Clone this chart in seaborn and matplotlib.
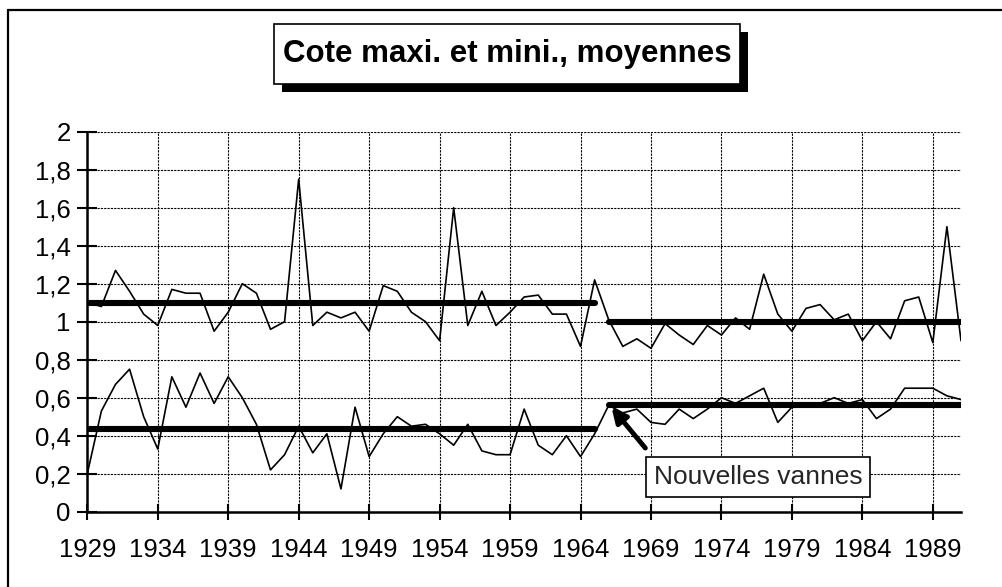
import numpy as np
import pandas as pd
import matplotlib
matplotlib.use("Agg")
import matplotlib.pyplot as plt
from matplotlib.patches import Rectangle
from matplotlib.lines import Line2D
from matplotlib.ticker import FuncFormatter, MultipleLocator
import seaborn as sns

# values
years = list(range(1929, 1992))
cote_maxi = [1.10, 1.08, 1.27, 1.16, 1.04, 0.98, 1.17, 1.15, 1.15, 0.95,
             1.05, 1.20, 1.15, 0.96, 1.00, 1.75, 0.98, 1.05, 1.02, 1.05,
             0.95, 1.19, 1.16, 1.05, 1.00, 0.90, 1.60, 0.98, 1.16, 0.98,
             1.05, 1.13, 1.14, 1.04, 1.04, 0.87, 1.22, 1.01, 0.87, 0.91,
             0.86, 0.99, 0.93, 0.88, 0.98, 0.93, 1.02, 0.96, 1.25, 1.04,
             0.95, 1.07, 1.09, 1.01, 1.04, 0.90, 1.00, 0.91, 1.11, 1.13,
             0.89, 1.50, 0.90]
cote_mini = [0.20, 0.53, 0.67, 0.75, 0.50, 0.33, 0.71, 0.55, 0.73, 0.57,
             0.71, 0.60, 0.46, 0.22, 0.30, 0.45, 0.31, 0.41, 0.12, 0.55,
             0.29, 0.41, 0.50, 0.45, 0.46, 0.41, 0.35, 0.46, 0.32, 0.30,
             0.30, 0.54, 0.35, 0.30, 0.40, 0.29, 0.41, 0.56, 0.52, 0.54,
             0.47, 0.46, 0.54, 0.49, 0.54, 0.60, 0.57, 0.61, 0.65, 0.47,
             0.55, 0.57, 0.57, 0.60, 0.57, 0.59, 0.49, 0.54, 0.65, 0.65,
             0.65, 0.61, 0.59]

# mean levels before / after the new gates
period_start = [1929, 1966]
period_end = [1965, 1991]
moyenne_maxi = [1.10, 1.00]
moyenne_mini = [0.435, 0.56]

title = "Cote maxi. et mini., moyennes"
note = "Nouvelles vannes"
note_tip = (1966.2, 0.55)
note_tail = (1968.6, 0.335)
note_pos = (1976.6, 0.183)
x_ticks = list(range(1929, 1990, 5))

sns.set_theme(style="white")
plt.rcParams["font.family"] = ["Liberation Sans", "DejaVu Sans"]

W, H = 1002, 587
fig = plt.figure(figsize=(W / 100, H / 100), dpi=100)
fig.patch.set_facecolor("white")

ax = fig.add_axes([87.3 / W, 1 - 511.7 / H, (961 - 87.3) / W, (511.7 - 131.7) / H])

df = pd.DataFrame({"annee": years, "maxi": cote_maxi, "mini": cote_mini})
sns.lineplot(data=df, x="annee", y="maxi", ax=ax, color="black", lw=1.2)
sns.lineplot(data=df, x="annee", y="mini", ax=ax, color="black", lw=1.2)

for x0, x1, vmax, vmin in zip(period_start, period_end, moyenne_maxi, moyenne_mini):
    for v in (vmax, vmin):
        ax.plot([x0, x1], [v, v], color="black", lw=4.4, solid_capstyle="round", zorder=3)

ax.set_xlim(1929, 1991)
ax.set_ylim(0, 2)
ax.set_xticks(x_ticks)
ax.yaxis.set_major_locator(MultipleLocator(0.2))
ax.yaxis.set_major_formatter(FuncFormatter(lambda v, p: ("%g" % round(v, 1)).replace(".", ",")))
ax.set_xlabel("")
ax.set_ylabel("")

ax.grid(True, color="black", lw=0.8, linestyle=(0, (2, 1)))
for side in ["top", "right"]:
    ax.spines[side].set_visible(False)
for side in ["left", "bottom"]:
    ax.spines[side].set_visible(True)
    ax.spines[side].set_color("black")
    ax.spines[side].set_linewidth(1.8)
ax.tick_params(axis="y", direction="inout", length=14, width=1.5, color="black",
               labelsize=18.5, labelcolor="black", pad=5, left=True)
ax.tick_params(axis="x", direction="inout", length=12, width=1.5, color="black",
               labelsize=18.5, labelcolor="black", pad=13, bottom=True)

# arrow + note box
ax.annotate("", xy=note_tip, xytext=note_tail,
            arrowprops=dict(arrowstyle="-|>", lw=3.5, color="black", mutation_scale=22,
                            shrinkA=0, shrinkB=0), zorder=5)
ax.text(note_pos[0], note_pos[1], note, ha="center", va="center", fontsize=19, zorder=6,
        bbox=dict(boxstyle="square,pad=0.3", fc="white", ec="black", lw=1.2))

# outer chart frame (only left and top edges fall inside the picture)
fig.add_artist(Line2D([8 / W, 8 / W], [0, 1 - 10 / H], color="black", lw=1.6,
                      transform=fig.transFigure))
fig.add_artist(Line2D([8 / W, 1], [1 - 10 / H, 1 - 10 / H], color="black", lw=1.6,
                      transform=fig.transFigure))

# title box with drop shadow
bx0, bx1, by0, by1 = 274, 740, 24, 84
fig.add_artist(Rectangle(((bx0 + 8) / W, 1 - (by1 + 8) / H), (bx1 - bx0) / W, (by1 - by0) / H,
                         transform=fig.transFigure, fc="black", ec="black", lw=0))
fig.add_artist(Rectangle((bx0 / W, 1 - by1 / H), (bx1 - bx0) / W, (by1 - by0) / H,
                         transform=fig.transFigure, fc="white", ec="black", lw=1.2))
fig.text((bx0 + bx1) / 2 / W, 1 - (by0 + by1) / 2 / H, title, ha="center", va="center",
         fontsize=22.5, fontweight="bold", color="black")

fig.savefig("out.png", dpi=100, facecolor="white")
